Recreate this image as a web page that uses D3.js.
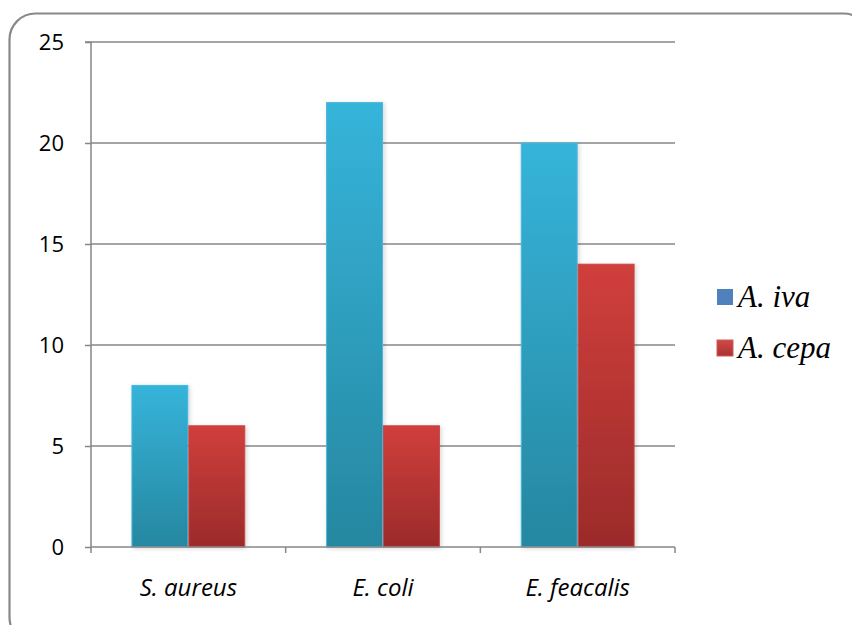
<!DOCTYPE html>
<html><head><meta charset="utf-8">
<script src="https://cdn.jsdelivr.net/npm/d3@7"></script>
<style>body{margin:0;background:#fff}svg{display:block}</style>
</head><body>
<svg id="chart" width="852" height="625"></svg>
<script>
const categories = ["S. aureus", "E. coli", "E. feacalis"];
const seriesNames = ["A. iva", "A. cepa"];
const aIva = [8, 22, 20];
const aCepa = [6, 6, 14];
const yTicks = [0, 5, 10, 15, 20, 25];

(function () {
const svg = d3.select("#chart");
const defs = svg.append("defs");
function grad(id, c1, c2) {
  const g = defs.append("linearGradient").attr("id", id).attr("x1", 0).attr("y1", 0).attr("x2", 0).attr("y2", 1);
  g.append("stop").attr("offset", "0%").attr("stop-color", c1);
  g.append("stop").attr("offset", "100%").attr("stop-color", c2);
}
grad("gBlue", "#36B4DA", "#2687A0");
grad("gRed", "#D03F3C", "#9B2B2A");
grad("gRedL", "#D04A48", "#A83230");
const f = defs.append("filter").attr("id", "sh").attr("x", "-20%").attr("y", "-10%").attr("width", "140%").attr("height", "120%");
f.append("feDropShadow").attr("dx", 1.5).attr("dy", 1).attr("stdDeviation", 2).attr("flood-color", "#000").attr("flood-opacity", 0.16);

svg.append("rect").attr("x", 9.5).attr("y", 13.5).attr("width", 860).attr("height", 630)
  .attr("rx", 26).attr("fill", "#fff").attr("stroke", "#888").attr("stroke-width", 2.2);

const pL = 91, pR = 675, pT = 42, pB = 547;
const x = d3.scaleBand().domain(categories).range([pL, pR]).paddingInner(0).paddingOuter(0);
const y = d3.scaleLinear().domain([0, 25]).range([pB, pT]);
const xs = d3.scaleBand().domain(seriesNames).range([0, x.bandwidth()]).paddingInner(0).paddingOuter(0.71);

svg.append("g").selectAll("line").data(yTicks.filter(d => d > 0)).join("line")
  .attr("x1", pL).attr("x2", pR).attr("y1", d => y(d)).attr("y2", d => y(d))
  .attr("stroke", "#878787").attr("stroke-width", 1.5);

const data = categories.map((c, i) => ({c, vals: [aIva[i], aCepa[i]]}));
const fills = ["url(#gBlue)", "url(#gRed)"];
const strokes = ["#4BB8DC", "#C84846"];
const gb = svg.append("g");
data.forEach(d => {
  d.vals.forEach((v, j) => {
    gb.append("rect")
      .attr("x", x(d.c) + xs(seriesNames[j]) + 0.5)
      .attr("y", y(v))
      .attr("width", xs.bandwidth() - 1)
      .attr("height", y(0) - y(v))
      .attr("fill", fills[j]).attr("stroke", strokes[j]).attr("stroke-width", 1)
      .attr("filter", "url(#sh)");
  });
});

const yAxis = d3.axisLeft(y).tickValues(yTicks).tickSize(6).tickPadding(21).tickFormat(d3.format("d"));
const gy = svg.append("g").attr("transform", `translate(${pL},0)`).call(yAxis);
gy.select(".domain").attr("stroke", "#878787").attr("stroke-width", 1.5).attr("d", `M-6,${pT}H0V${pB}`);
gy.selectAll(".tick line").attr("stroke", "#878787").attr("stroke-width", 1.5);
gy.selectAll(".tick text").attr("font-family", "Open Sans, sans-serif").attr("font-size", 22).attr("fill", "#000");

const xAxis = d3.axisBottom(x).tickSize(0).tickPadding(32);
const gx = svg.append("g").attr("transform", `translate(0,${pB})`).call(xAxis);
gx.select(".domain").attr("stroke", "#878787").attr("stroke-width", 1.5).attr("d", `M${pL},0H${pR}`);
gx.selectAll(".tick text").attr("font-family", "Open Sans, sans-serif").attr("font-size", 24)
  .attr("font-style", "italic").attr("fill", "#000");
const bounds = [pL].concat(categories.map(c => x(c) + x.bandwidth()));
svg.append("g").selectAll("line").data(bounds).join("line")
  .attr("x1", d => d).attr("x2", d => d).attr("y1", pB).attr("y2", pB + 6)
  .attr("stroke", "#878787").attr("stroke-width", 1.5);

const legendColors = ["#4F81BD", "#C0504D"];
const lg = svg.append("g").attr("transform", "translate(717,289)");
seriesNames.forEach((n, i) => {
  const g = lg.append("g").attr("transform", `translate(0,${i * 51})`);
  g.append("rect").attr("width", 16).attr("height", 16).attr("fill", i === 0 ? legendColors[0] : "url(#gRedL)")
    .attr("stroke", i === 0 ? "none" : "#D05A58").attr("stroke-width", 1);
  g.append("text").attr("x", 21).attr("y", 18).text(n)
    .attr("font-family", "'Liberation Serif', 'Times New Roman', serif").attr("font-style", "italic")
    .attr("font-size", 31).attr("fill", "#000");
});
})();
</script>
</body></html>
